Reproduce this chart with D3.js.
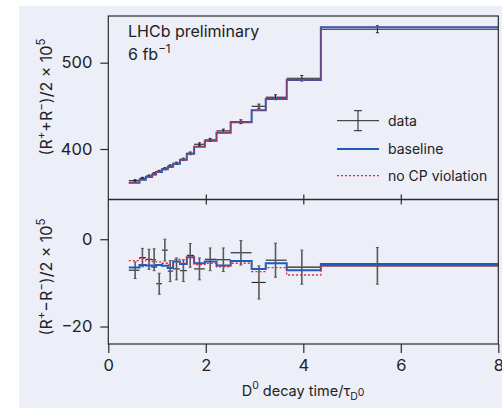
<!DOCTYPE html>
<meta charset="utf-8">
<script src="https://d3js.org/d3.v7.min.js"></script>
<style>
  body { margin: 0; background: #fff; }
  text { font-family: "Inter", "Liberation Sans", sans-serif; fill: #222; }
</style>
<div id="my_dataviz"></div>

<script>

  // bin edges and measured points (decay time in units of tau)
  var binEdges = [0.42, 0.64, 0.77, 0.90, 0.98, 1.10, 1.22, 1.33, 1.47, 1.61, 1.76, 1.98, 2.22, 2.51, 2.94, 3.23, 3.66, 4.36, 8.0];
  var timePts  = [0.55, 0.70, 0.835, 0.94, 1.045, 1.16, 1.27, 1.40, 1.54, 1.68, 1.87, 2.09, 2.36, 2.72, 3.09, 3.43, 3.97, 5.52];

  // upper panel: (R+ + R-)/2 x 10^5
  var sumData  = [363.3, 366.0, 368.7, 371.4, 374.1, 377.2, 380.3, 383.4, 388.0, 395.0, 405.5, 410.5, 421.0, 431.6, 449.5, 460.0, 482.0, 538.7];
  var sumErr   = [1.2, 1.2, 1.2, 1.2, 1.2, 1.2, 1.3, 1.3, 1.4, 1.5, 1.6, 1.8, 2.0, 2.2, 2.5, 2.8, 3.2, 4.0];
  var sumBase  = [361.0, 364.5, 367.5, 370.5, 373.5, 376.5, 379.5, 383.0, 387.5, 394.5, 402.7, 409.6, 418.9, 431.0, 445.0, 458.0, 480.0, 541.0];
  var sumNoCP  = [361.0, 364.5, 367.5, 370.5, 373.5, 376.5, 379.5, 383.0, 387.5, 394.5, 402.7, 409.6, 418.9, 431.0, 445.0, 458.0, 480.0, 541.0];

  // lower panel: (R+ - R-)/2 x 10^5
  var diffData = [-7.1, -4.2, -4.6, -4.7, -10.2, -2.5, -7.3, -6.8, -7.2, -3.7, -6.8, -4.6, -4.7, -3.1, -9.9, -4.8, -6.4, -6.1];
  var diffErr  = [1.9, 2.1, 2.3, 2.5, 2.4, 2.5, 2.4, 2.5, 2.5, 2.7, 2.5, 2.6, 2.7, 2.8, 3.8, 3.9, 3.9, 4.2];
  var diffBase = [-6.5, -5.9, -6.0, -6.3, -5.9, -6.1, -6.6, -5.1, -5.7, -4.1, -5.5, -5.1, -6.0, -5.0, -6.8, -5.5, -7.1, -5.7];
  var diffNoCP = [-4.9, -4.4, -4.9, -5.1, -5.2, -5.5, -5.9, -4.6, -5.5, -4.0, -5.8, -5.5, -6.3, -5.5, -7.4, -6.5, -8.2, -6.1];

  var xTicks = [0, 2, 4, 6, 8];
  var sumTicks = [400, 500];
  var diffTicks = [0, -20];

  var legendItems = ["data", "baseline", "no CP violation"];

  var blue = "#1f5cb8", red = "#e2283a", frame = "#2b2b2b";

  var W = 502, H = 408;
  var svg = d3.select("#my_dataviz")
    .append("svg")
    .attr("width", W)
    .attr("height", H);

  // lavender background
  svg.append("rect")
    .attr("x", 19).attr("y", 6)
    .attr("width", W - 19).attr("height", H - 6)
    .style("fill", "#eceef8");

  var left = 108.3, right = 498.3;
  var topY = 16, midY = 199.5, botY = 344;

  var x = d3.scaleLinear().domain([0, 8]).range([left, right]);
  var yTop = d3.scaleLinear().domain([341.5, 554.1]).range([midY, topY]);
  var yBot = d3.scaleLinear().domain([-24, 9.1]).range([botY, midY]);

  // step line through bins
  function stepPath(vals, y) {
    var pts = vals.map(function (v, i) { return [binEdges[i], v]; });
    pts.push([binEdges[binEdges.length - 1], vals[vals.length - 1]]);
    return d3.line()
      .x(function (d) { return x(d[0]); })
      .y(function (d) { return y(d[1]); })
      .curve(d3.curveStepAfter)(pts);
  }

  function drawPanel(y, data, err, base, nocp, barColor, barWidth, cap) {
    var g = svg.append("g");
    // data horizontal bars (bin widths)
    g.selectAll(null).data(data).enter().append("line")
      .attr("x1", function (d, i) { return x(binEdges[i]); })
      .attr("x2", function (d, i) { return x(binEdges[i + 1]); })
      .attr("y1", function (d) { return y(d); })
      .attr("y2", function (d) { return y(d); })
      .style("stroke", "#222").style("stroke-width", 1.1);
    // error bars
    g.selectAll(null).data(data).enter().append("line")
      .attr("x1", function (d, i) { return x(timePts[i]); })
      .attr("x2", function (d, i) { return x(timePts[i]); })
      .attr("y1", function (d, i) { return y(d + err[i]); })
      .attr("y2", function (d, i) { return y(d - err[i]); })
      .style("stroke", barColor).style("stroke-width", barWidth);
    [1, -1].forEach(function (s) {
      g.selectAll(null).data(data).enter().append("line")
        .attr("x1", function (d, i) { return x(timePts[i]) - cap; })
        .attr("x2", function (d, i) { return x(timePts[i]) + cap; })
        .attr("y1", function (d, i) { return y(d + s * err[i]); })
        .attr("y2", function (d, i) { return y(d + s * err[i]); })
        .style("stroke", barColor).style("stroke-width", 1);
    });
    // models
    g.append("path").attr("d", stepPath(base, y))
      .style("fill", "none").style("stroke", blue).style("stroke-width", 2);
    g.append("path").attr("d", stepPath(nocp, y))
      .style("fill", "none").style("stroke", red).style("stroke-width", 1.3)
      .style("stroke-dasharray", "2,2");
  }

  drawPanel(yTop, sumData, sumErr, sumBase, sumNoCP, "#222", 1, 1.5);
  drawPanel(yBot, diffData, diffErr, diffBase, diffNoCP, "#5a5a5a", 1.6, 1.5);

  // frames
  svg.append("rect")
    .attr("x", left).attr("y", topY)
    .attr("width", right - left).attr("height", botY - topY)
    .style("fill", "none").style("stroke", frame).style("stroke-width", 1.2);
  svg.append("line")
    .attr("x1", left).attr("x2", right).attr("y1", midY).attr("y2", midY)
    .style("stroke", frame).style("stroke-width", 1.6);

  // axes
  var axisStyle = function (g) {
    g.select(".domain").remove();
    g.selectAll(".tick line").style("stroke", frame).style("stroke-width", 1.2);
    g.selectAll(".tick text").style("font-family", "Inter, sans-serif")
      .style("font-size", "16.5px").style("fill", "#222");
  };

  svg.append("g")
    .attr("transform", "translate(0," + botY + ")")
    .call(d3.axisBottom(x).tickValues(xTicks).tickSize(9).tickPadding(6).tickFormat(d3.format("d")))
    .call(axisStyle);

  // inner ticks on the divider
  svg.append("g")
    .attr("transform", "translate(0," + midY + ")")
    .call(d3.axisTop(x).tickValues([2, 4, 6]).tickSize(5).tickFormat(""))
    .call(axisStyle);
  svg.append("g")
    .attr("transform", "translate(0," + midY + ")")
    .call(d3.axisBottom(x).tickValues([2, 4, 6]).tickSize(5).tickFormat(""))
    .call(axisStyle);

  svg.append("g")
    .attr("transform", "translate(" + left + ",0)")
    .call(d3.axisLeft(yTop).tickValues(sumTicks).tickSize(8).tickPadding(8))
    .call(axisStyle);
  svg.append("g")
    .attr("transform", "translate(" + left + ",0)")
    .call(d3.axisLeft(yBot).tickValues(diffTicks).tickSize(8).tickPadding(8)
      .tickFormat(function (d) { return d < 0 ? "\u2212" + Math.abs(d) : d; }))
    .call(axisStyle);

  // rich text helper: parts of [text, shift]  shift: 0 normal, 1 sup, -1 sub, 2 sup on sub
  function richText(sel, parts, size) {
    var cur = 0;
    parts.forEach(function (p) {
      var off = { "0": 0, "1": -0.45, "-1": 0.3, "2": 0.02 }[p[1]];
      var dy = (off - cur) * size;
      cur = off;
      sel.append("tspan")
        .attr("dy", dy + "px")
        .style("font-size", (p[1] === 0 ? size : size * 0.72) + "px")
        .text(p[0]);
    });
  }

  // label
  var t1 = svg.append("text").attr("x", 128).attr("y", 36.5).style("font-size", "16px");
  t1.text("LHCb preliminary");
  var t2 = svg.append("text").attr("x", 128).attr("y", 60).style("font-size", "16px");
  richText(t2, [["6 fb", 0], ["\u22121", 1]], 16);

  // axis titles
  var xl = svg.append("text").attr("x", 303).attr("y", 396).attr("text-anchor", "middle").style("font-size", "14.5px");
  richText(xl, [["D", 0], ["0", 1], [" decay time/\u03c4", 0], ["D", -1], ["0", 2]], 14.5);

  var yl1 = svg.append("text").attr("transform", "translate(52,97) rotate(-90)").attr("text-anchor", "middle").style("font-size", "16px");
  richText(yl1, [["(R", 0], ["+", 1], ["+R", 0], ["\u2212", 1], [")/2 \u00d7 10", 0], ["5", 1]], 16);
  var yl2 = svg.append("text").attr("transform", "translate(52,277) rotate(-90)").attr("text-anchor", "middle").style("font-size", "16px");
  richText(yl2, [["(R", 0], ["+", 1], ["\u2212R", 0], ["\u2212", 1], [")/2 \u00d7 10", 0], ["5", 1]], 16);

  // legend
  var lg = svg.append("g");
  var lx0 = 337, lx1 = 379, ly = [120.7, 149, 175.7];
  lg.append("line").attr("x1", lx0).attr("x2", lx1).attr("y1", ly[0]).attr("y2", ly[0]).style("stroke", "#222");
  lg.append("line").attr("x1", 358).attr("x2", 358).attr("y1", ly[0] - 10).attr("y2", ly[0] + 10).style("stroke", "#222");
  lg.append("line").attr("x1", 354).attr("x2", 362).attr("y1", ly[0] - 10).attr("y2", ly[0] - 10).style("stroke", "#222");
  lg.append("line").attr("x1", 354).attr("x2", 362).attr("y1", ly[0] + 10).attr("y2", ly[0] + 10).style("stroke", "#222");
  lg.append("line").attr("x1", lx0).attr("x2", lx1).attr("y1", ly[1]).attr("y2", ly[1]).style("stroke", blue).style("stroke-width", 2);
  lg.append("line").attr("x1", lx0).attr("x2", lx1).attr("y1", ly[2]).attr("y2", ly[2]).style("stroke", red)
    .style("stroke-width", 1.3).style("stroke-dasharray", "2,2");
  lg.selectAll("text.lab").data(legendItems).enter().append("text")
    .attr("x", 388).attr("y", function (d, i) { return ly[i]; })
    .attr("dy", "0.35em").style("font-size", "14px")
    .text(function (d) { return d; });

</script>
